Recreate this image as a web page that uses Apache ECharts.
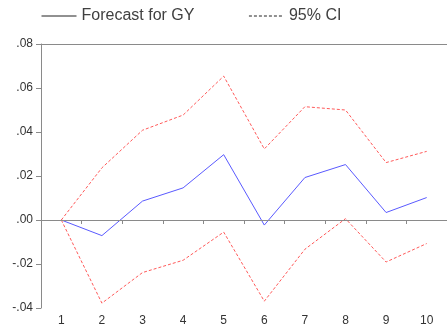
<!DOCTYPE html>
<html>
<head>
<meta charset="utf-8">
<script src="https://cdn.jsdelivr.net/npm/echarts@6/dist/echarts.min.js"></script>
<style>
  html, body { margin: 0; padding: 0; background: #fff; }
  #chart { width: 447px; height: 327px; }
</style>
</head>
<body>
<div id="chart"></div>
<script>
// Forecast horizon (periods)
const periods = ['1', '2', '3', '4', '5', '6', '7', '8', '9', '10'];
// Point forecast for GY
const forecast = [0.0, -0.0071, 0.0086, 0.0146, 0.0297, -0.0023, 0.0193, 0.0252, 0.0034, 0.0102];
// 95% confidence band
const upperCI = [0.0, 0.0237, 0.0408, 0.0477, 0.0654, 0.0323, 0.0515, 0.0500, 0.0261, 0.0312];
const lowerCI = [0.0, -0.0378, -0.0239, -0.0183, -0.0055, -0.0369, -0.0133, 0.0006, -0.0191, -0.0107];
// Value axis range
const yMin = -0.04, yMax = 0.08, yStep = 0.02;

const axisGray = '#8a8a8a';
const textColor = '#333333';
const fontFamily = 'Liberation Sans, Arial, sans-serif';

// ".08", "-.02", ".00" style tick labels
function shortDecimal(v) {
  const s = Math.abs(v).toFixed(2).replace(/^0/, '');
  return (v < -1e-9 ? '-' : '') + s;
}

const chart = echarts.init(document.getElementById('chart'), null, { renderer: 'canvas' });

chart.setOption({
  animation: false,
  backgroundColor: '#ffffff',
  textStyle: { fontFamily: fontFamily },
  legend: {
    top: 8,
    left: 41,
    padding: 0,
    itemWidth: 35,
    itemHeight: 14,
    itemGap: 54,
    textStyle: { color: '#404040', fontSize: 16, fontFamily: fontFamily },
    data: [
      {
        name: 'Forecast for GY',
        itemStyle: { opacity: 0 },
        lineStyle: { color: '#222222', width: 1, type: 'solid' }
      },
      {
        name: '95% CI',
        itemStyle: { opacity: 0 },
        lineStyle: { color: '#222222', width: 1, type: [3, 2] }
      }
    ]
  },
  grid: { left: 41, top: 44, right: -8, bottom: 18, containLabel: false },
  xAxis: [
    {
      type: 'category',
      data: periods,
      boundaryGap: true,
      position: 'bottom',
      axisLine: { show: true, lineStyle: { color: axisGray, width: 1 } },
      axisTick: { show: true, length: 4, alignWithLabel: false, lineStyle: { color: axisGray } },
      axisLabel: { color: textColor, fontSize: 12, margin: 7, fontFamily: fontFamily },
      splitLine: { show: false }
    },
    {
      type: 'category',
      data: periods,
      position: 'top',
      axisLine: { show: true, lineStyle: { color: axisGray, width: 1 } },
      axisTick: { show: false },
      axisLabel: { show: false },
      splitLine: { show: false }
    }
  ],
  yAxis: {
    type: 'value',
    min: yMin,
    max: yMax,
    interval: yStep,
    axisLine: { show: true, lineStyle: { color: axisGray, width: 1 } },
    axisTick: { show: true, inside: false, length: 5, lineStyle: { color: axisGray } },
    axisLabel: { color: textColor, fontSize: 12, margin: 8, formatter: shortDecimal, fontFamily: fontFamily },
    splitLine: { show: false }
  },
  series: [
    {
      name: 'Forecast for GY',
      type: 'line',
      data: forecast,
      symbol: 'none',
      lineStyle: { color: '#5a5aff', width: 1 },
      itemStyle: { color: '#5a5aff' },
      z: 3,
      markLine: {
        silent: true,
        symbol: 'none',
        label: { show: false },
        lineStyle: { color: axisGray, width: 1.2, type: 'solid' },
        data: [{ yAxis: 0 }]
      }
    },
    {
      name: '95% CI',
      type: 'line',
      data: upperCI,
      symbol: 'none',
      lineStyle: { color: '#ff5a5a', width: 1, type: [3, 2] },
      itemStyle: { color: '#ff5a5a' },
      z: 3
    },
    {
      name: '95% CI',
      type: 'line',
      data: lowerCI,
      symbol: 'none',
      lineStyle: { color: '#ff5a5a', width: 1, type: [3, 2] },
      itemStyle: { color: '#ff5a5a' },
      z: 3
    }
  ]
});
</script>
</body>
</html>
